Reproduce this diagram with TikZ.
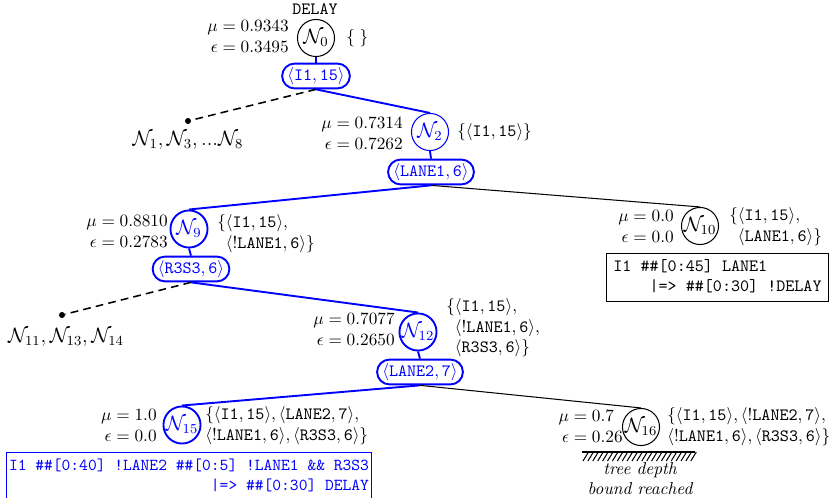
\documentclass[tikz,border=0pt]{standalone}
\usepackage{amsmath}
\usetikzlibrary{shapes.misc,calc}
\definecolor{nblue}{RGB}{0,0,255}
\begin{document}
\begin{tikzpicture}[x=0.58pt,y=-0.58pt,
  st/.style={circle,draw,inner sep=0pt,minimum size=21.5pt,font=\large,line width=0.6pt},
  stb/.style={st,draw=nblue,text=nblue,line width=1.1pt},
  stt/.style={st,draw=nblue,text=nblue,line width=0.6pt},
  act/.style={rounded rectangle,draw=nblue,text=nblue,line width=1.1pt,inner xsep=1pt,inner ysep=2.2pt},
  lab/.style={anchor=east,inner sep=0pt},
  setl/.style={anchor=west,inner sep=0pt},
  bl/.style={draw=nblue,line width=1.1pt},
  kl/.style={draw=black,line width=0.6pt},
  dl/.style={draw=black,line width=0.9pt,dash pattern=on 4.5pt off 3pt},
  dot/.style={circle,fill=black,inner sep=0pt,minimum size=3.5pt},
  grp/.style={font=\large,inner sep=0pt},
  res/.style={draw,line width=0.8pt,font=\ttfamily,inner ysep=2pt,align=left}
]
\useasboundingbox (0,0) rectangle (831,498);

% root
\node[st] (N0) at (316,38) {$\mathcal{N}_0$};
\node[font=\ttfamily,inner sep=0pt] (dl0) at (315,9) {DELAY};
\node[lab] (m0) at (289,38) {$\begin{array}{@{}r@{}l@{}}\mu&{}=0.9343\\\epsilon&{}=0.3495\end{array}$};
\node[setl] (s0) at (346,38) {$\{\;\}$};
\node[act] (a0) at (316,76) {$\langle\mathtt{I1},\mathtt{15}\rangle$};

\node[dot] (d1) at (188,121) {};
\node[grp] (g1) at (188,140) {$\mathcal{N}_1,\mathcal{N}_3,...\mathcal{N}_8$};

% N2
\node[stt] (N2) at (430,132) {$\mathcal{N}_2$};
\node[lab] (m2) at (403,135) {$\begin{array}{@{}r@{}l@{}}\mu&{}=0.7314\\\epsilon&{}=0.7262\end{array}$};
\node[setl] (s2) at (457,132) {$\{\langle\mathtt{I1},\mathtt{15}\rangle\}$};
\node[act] (a2) at (431,172) {$\langle\mathtt{LANE1},\mathtt{6}\rangle$};

% N9
\node[stb] (N9) at (189,229) {$\mathcal{N}_9$};
\node[lab] (m9) at (168,233) {$\begin{array}{@{}r@{}l@{}}\mu&{}=0.8810\\\epsilon&{}=0.2783\end{array}$};
\node[setl] (s9) at (217,234) {$\begin{array}{@{}l@{}}\{\langle\mathtt{I1},\mathtt{15}\rangle,\\\phantom{\{}\langle\mathtt{!LANE1},\mathtt{6}\rangle\}\end{array}$};
\node[act] (a9) at (191,269) {$\langle\mathtt{R3S3},\mathtt{6}\rangle$};

\node[dot] (d2) at (62,315) {};
\node[grp] (g2) at (66,337) {$\mathcal{N}_{11},\mathcal{N}_{13},\mathcal{N}_{14}$};

% N10
\node[st] (N10) at (700,226) {$\mathcal{N}_{10}$};
\node[lab] (m10) at (674,228) {$\begin{array}{@{}r@{}l@{}}\mu&{}=0.0\\\epsilon&{}=0.0\end{array}$};
\node[setl] (s10) at (729,227) {$\begin{array}{@{}l@{}}\{\langle\mathtt{I1},\mathtt{15}\rangle,\\\phantom{\{}\langle\mathtt{LANE1},\mathtt{6}\rangle\}\end{array}$};
\node[res,inner xsep=4pt] (r10) at (717.5,277.5) {\begin{tabular}{@{}l@{}}I1 \#\#[0:45] LANE1\\\phantom{xxxx}|=> \#\#[0:30] !DELAY\end{tabular}};

% N12
\node[stb] (N12) at (418,332) {$\mathcal{N}_{12}$};
\node[lab] (m12) at (395,331) {$\begin{array}{@{}r@{}l@{}}\mu&{}=0.7077\\\epsilon&{}=0.2650\end{array}$};
\node[setl] (s12) at (446,328) {$\begin{array}{@{}l@{}}\{\langle\mathtt{I1},\mathtt{15}\rangle,\\\phantom{\{}\langle\mathtt{!LANE1},\mathtt{6}\rangle,\\\phantom{\{}\langle\mathtt{R3S3},\mathtt{6}\rangle\}\end{array}$};
\node[act] (a12) at (420,372) {$\langle\mathtt{LANE2},\mathtt{7}\rangle$};

% N15
\node[stb] (N15) at (182,425) {$\mathcal{N}_{15}$};
\node[lab] (m15) at (157,427) {$\begin{array}{@{}r@{}l@{}}\mu&{}=1.0\\\epsilon&{}=0.0\end{array}$};
\node[setl] (s15) at (205,426) {$\begin{array}{@{}l@{}}\{\langle\mathtt{I1},\mathtt{15}\rangle,\langle\mathtt{LANE2},\mathtt{7}\rangle,\\\langle\mathtt{!LANE1},\mathtt{6}\rangle,\langle\mathtt{R3S3},\mathtt{6}\rangle\}\end{array}$};
\node[res,draw=nblue,text=nblue,inner xsep=1.5pt,font=\fontsize{9.7}{11.6}\ttfamily] (r15) at (189,476) {\begin{tabular}{@{}l@{}}I1 \#\#[0:40] !LANE2 \#\#[0:5] !LANE1 \&\& R3S3\\\hfill|=> \#\#[0:30] DELAY\end{tabular}};

% N16
\node[st] (N16) at (641,427) {$\mathcal{N}_{16}$};
\node[lab] (m16) at (623,428) {$\begin{array}{@{}r@{}l@{}}\mu&{}=0.7\\\epsilon&{}=0.26\end{array}$};
\node[setl] (s16) at (667,427) {$\begin{array}{@{}l@{}}\{\langle\mathtt{I1},\mathtt{15}\rangle,\langle\mathtt{!LANE2},\mathtt{7}\rangle,\\\langle\mathtt{!LANE1},\mathtt{6}\rangle,\langle\mathtt{R3S3},\mathtt{6}\rangle\}\end{array}$};
\coordinate (h1) at (582,452);
\coordinate (h2) at (695,452);
\draw[line width=0.9pt] (h1) -- (h2);
\foreach \i in {0,...,22} {
  \draw[line width=0.6pt] ($(h1)+(\i*4.9+1,9)$) -- ++(5.5,-9);
}
\node[font=\itshape,inner sep=0pt] (t1) at (640,470) {tree depth};
\node[font=\itshape,inner sep=0pt] (t2) at (640,489) {bound reached};

% edges
\draw[bl] (N0.south) -- (a0.north);
\draw[dl] (a0.south) -- (d1);
\draw[bl] (a0.south) -- (N2.north);
\draw[bl] (N2.south) -- (a2.north);
\draw[bl] (a2.south) -- (N9.north);
\draw[kl] (a2.south) -- (N10.north);
\draw[bl] (N9.south) -- (a9.north);
\draw[dl] (a9.south) -- (d2);
\draw[bl] (a9.south) -- (N12.north);
\draw[bl] (N12.south) -- (a12.north);
\draw[bl] (a12.south) -- (N15.north);
\draw[kl] (a12.south) -- (N16.north);
\end{tikzpicture}
\end{document}
